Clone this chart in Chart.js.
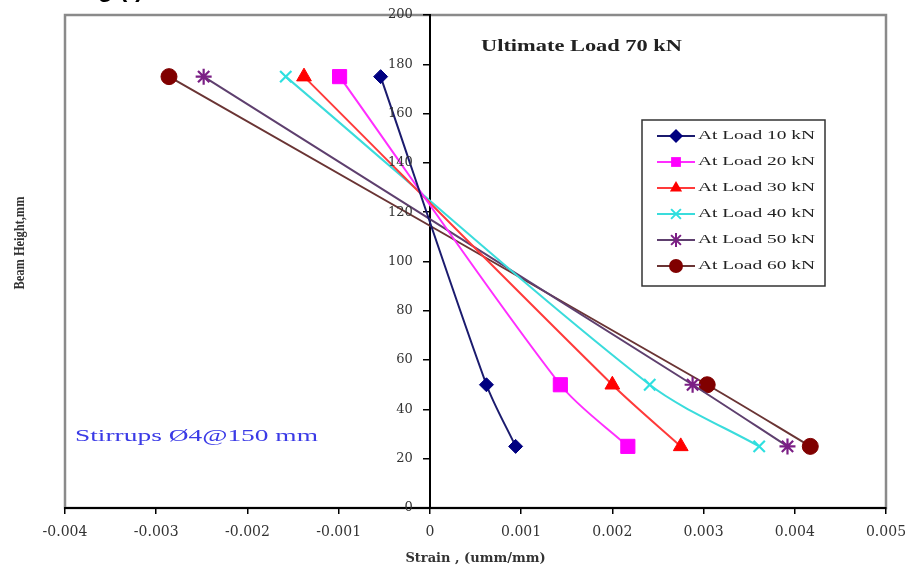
<!DOCTYPE html>
<html>
<head>
<meta charset="utf-8">
<script src="https://cdn.jsdelivr.net/npm/chart.js@4/dist/chart.umd.min.js"></script>
<style>
html, body { margin: 0; padding: 0; background: #fff; }
#wrap { position: relative; width: 910px; height: 579px; }
</style>
</head>
<body>
<div id="wrap"><canvas id="myChart" width="910" height="579"></canvas></div>
<script>
// gauge heights on the beam (mm)
const heights = [175, 50, 25];

// strain at each gauge, one list per load step
const strain10 = [-0.00054, 0.00062, 0.00094];
const strain20 = [-0.00099, 0.00143, 0.00217];
const strain30 = [-0.00138, 0.00200, 0.00275];
const strain40 = [-0.00158, 0.00241, 0.00361];
const strain50 = [-0.00248, 0.00288, 0.00392];
const strain60 = [-0.00286, 0.00304, 0.00417];

const seriesNames = ['At Load 10 kN', 'At Load 20 kN', 'At Load 30 kN',
                     'At Load 40 kN', 'At Load 50 kN', 'At Load 60 kN'];

const xTicks = [-0.004, -0.003, -0.002, -0.001, 0, 0.001, 0.002, 0.003, 0.004, 0.005];
const xTickLabels = ['-0.004', '-0.003', '-0.002', '-0.001', '0', '0.001', '0.002', '0.003', '0.004', '0.005'];
const yTicks = [0, 20, 40, 60, 80, 100, 120, 140, 160, 180, 200];
const yTickLabels = ['0', '20', '40', '60', '80', '100', '120', '140', '160', '180', '200'];

const allStrains = [strain10, strain20, strain30, strain40, strain50, strain60];
const markerColors = ['#000080', '#ff00ff', '#ff0000', '#2ee0e0', '#7b1f85', '#800000'];
const lineColors = ['#1b1b6e', '#ff2eff', '#ff3a3a', '#3adcdc', '#5e3f6e', '#6a3434'];
const markerStyles = ['rectRot', 'rect', 'triangle', 'crossRot', 'star', 'circle'];
const markerSizes = [7, 10, 8.5, 8, 8, 8];

function toPoints(xs) {
    return xs.map(function(x, i) { return {x: x, y: heights[i]}; });
}

const datasets = allStrains.map(function(s, i) {
    const stroked = markerStyles[i] === 'crossRot' || markerStyles[i] === 'star';
    return {
        label: seriesNames[i],
        data: toPoints(s),
        showLine: true,
        borderColor: lineColors[i],
        borderWidth: 2,
        tension: 0.3,
        pointStyle: markerStyles[i],
        pointRadius: markerSizes[i],
        pointHoverRadius: markerSizes[i],
        pointBackgroundColor: markerColors[i],
        pointBorderColor: markerColors[i],
        pointBorderWidth: stroked ? 2.2 : 1
    };
});

// draw text squeezed/stretched to a given width (the source figure is stretched sideways)
function stretchText(ctx, text, x, y, font, color, width, align) {
    ctx.save();
    ctx.font = font;
    ctx.fillStyle = color;
    ctx.textBaseline = 'middle';
    ctx.textAlign = 'left';
    const w = ctx.measureText(text).width;
    const k = width / w;
    let x0 = x;
    if (align === 'center') x0 = x - width / 2;
    ctx.translate(x0, y);
    ctx.scale(k, 1);
    ctx.fillText(text, 0, 0);
    ctx.restore();
}

function drawMarker(ctx, style, x, y, r, color) {
    ctx.save();
    ctx.fillStyle = color;
    ctx.strokeStyle = color;
    ctx.lineWidth = 2;
    ctx.beginPath();
    if (style === 'rectRot') {
        ctx.moveTo(x, y - r); ctx.lineTo(x + r, y); ctx.lineTo(x, y + r); ctx.lineTo(x - r, y);
        ctx.closePath(); ctx.fill();
    } else if (style === 'rect') {
        ctx.rect(x - r * 0.7, y - r * 0.7, r * 1.4, r * 1.4); ctx.fill();
    } else if (style === 'triangle') {
        ctx.moveTo(x, y - r); ctx.lineTo(x + r * 0.87, y + r * 0.5); ctx.lineTo(x - r * 0.87, y + r * 0.5);
        ctx.closePath(); ctx.fill();
    } else if (style === 'crossRot') {
        const d = r * 0.7;
        ctx.moveTo(x - d, y - d); ctx.lineTo(x + d, y + d);
        ctx.moveTo(x + d, y - d); ctx.lineTo(x - d, y + d); ctx.stroke();
    } else if (style === 'star') {
        const d = r * 0.7;
        ctx.moveTo(x - d, y - d); ctx.lineTo(x + d, y + d);
        ctx.moveTo(x + d, y - d); ctx.lineTo(x - d, y + d);
        ctx.moveTo(x, y - r); ctx.lineTo(x, y + r); ctx.stroke();
    } else {
        ctx.arc(x, y, r, 0, Math.PI * 2); ctx.fill();
    }
    ctx.restore();
}

const extras = {
    id: 'extras',
    beforeDraw: function(chart) {
        const ctx = chart.ctx;
        const a = chart.chartArea;
        ctx.save();
        ctx.fillStyle = '#fff';
        ctx.fillRect(0, 0, chart.width, chart.height);
        // plot area frame
        ctx.strokeStyle = '#8a8a8a';
        ctx.lineWidth = 2.5;
        ctx.strokeRect(a.left, a.top, a.right - a.left, a.bottom - a.top);
        ctx.restore();
    },
    afterDraw: function(chart) {
        const ctx = chart.ctx;
        const xs = chart.scales.x, ys = chart.scales.y;

        // y tick labels sit left of the axis that crosses at strain 0
        const axisX = xs.getPixelForValue(0);
        ctx.save();
        ctx.font = '13px "DejaVu Serif"';
        ctx.fillStyle = '#333';
        ctx.textAlign = 'right';
        ctx.textBaseline = 'middle';
        yTicks.forEach(function(v, i) {
            ctx.fillText(yTickLabels[i], axisX - 17, ys.getPixelForValue(v));
        });
        ctx.restore();

        // clipped caption above the chart
        ctx.save();
        ctx.font = 'bold 24px "Liberation Sans"';
        ctx.fillStyle = '#000';
        ctx.textBaseline = 'alphabetic';
        ctx.fillText('g (f)', 98, -3);
        ctx.restore();

        // y axis title
        ctx.save();
        ctx.translate(20, 243);
        ctx.rotate(-Math.PI / 2);
        stretchText(ctx, 'Beam Height,mm', 0, 0, 'bold 14px "Liberation Serif"', '#333', 93, 'center');
        ctx.restore();

        stretchText(ctx, 'Ultimate Load 70 kN', 481, 47, 'bold 16px "Liberation Serif"', '#222', 201, 'left');
        stretchText(ctx, 'Stirrups \u00D84@150 mm', 75, 437, '17px "Liberation Serif"', '#3a3ae6', 243, 'left');

        // legend box
        const lx = 642, ly = 120, lw = 183, lh = 166;
        ctx.save();
        ctx.fillStyle = '#fff';
        ctx.fillRect(lx, ly, lw, lh);
        ctx.strokeStyle = '#333';
        ctx.lineWidth = 1.5;
        ctx.strokeRect(lx, ly, lw, lh);
        ctx.restore();
        seriesNames.forEach(function(name, i) {
            const y = 136 + i * 26;
            ctx.save();
            ctx.strokeStyle = lineColors[i];
            ctx.lineWidth = 2;
            ctx.beginPath();
            ctx.moveTo(657, y); ctx.lineTo(695, y);
            ctx.stroke();
            ctx.restore();
            drawMarker(ctx, markerStyles[i], 676, y, Math.min(markerSizes[i], 7), markerColors[i]);
            stretchText(ctx, name, 698, y, '13px "Liberation Serif"', '#222', 117, 'left');
        });
    }
};

const config = {
    type: 'scatter',
    data: { datasets: datasets },
    options: {
        responsive: false,
        animation: false,
        events: [],
        layout: { padding: { left: 65, right: 24, top: 15, bottom: 0 } },
        plugins: { legend: { display: false }, tooltip: { enabled: false } },
        scales: {
            x: {
                type: 'linear',
                position: 'bottom',
                min: -0.004,
                max: 0.005,
                afterBuildTicks: function(s) { s.ticks = xTicks.map(function(v) { return {value: v}; }); },
                afterFit: function(s) { s.height = 71; s.paddingLeft = 0; s.paddingRight = 0; },
                grid: { display: true, drawOnChartArea: false, drawTicks: true, tickLength: 6, color: '#000', lineWidth: 1.5 },
                border: { display: true, color: '#000', width: 2 },
                ticks: {
                    autoSkip: false,
                    maxRotation: 0,
                    padding: 10,
                    color: '#333',
                    font: { family: 'DejaVu Serif', size: 14 },
                    callback: function(v, i) { return xTickLabels[i]; }
                },
                title: {
                    display: true,
                    text: 'Strain , (umm/mm)',
                    color: '#333',
                    font: { family: 'DejaVu Serif', size: 13, weight: 'bold' },
                    padding: { top: 0, bottom: 13 }
                }
            },
            y: {
                type: 'linear',
                position: { x: 0 },
                min: 0,
                max: 200,
                afterBuildTicks: function(s) { s.ticks = yTicks.map(function(v) { return {value: v}; }); },
                afterFit: function(s) { s.width = 0; s.paddingTop = 0; s.paddingBottom = 0; },
                grid: { display: true, drawOnChartArea: false, drawTicks: true, tickLength: 6, color: '#000', lineWidth: 1.5 },
                border: { display: true, color: '#000', width: 2 },
                ticks: { display: false }
            }
        }
    },
    plugins: [extras]
};

var myChart = new Chart(document.getElementById('myChart'), config);
</script>
</body>
</html>
